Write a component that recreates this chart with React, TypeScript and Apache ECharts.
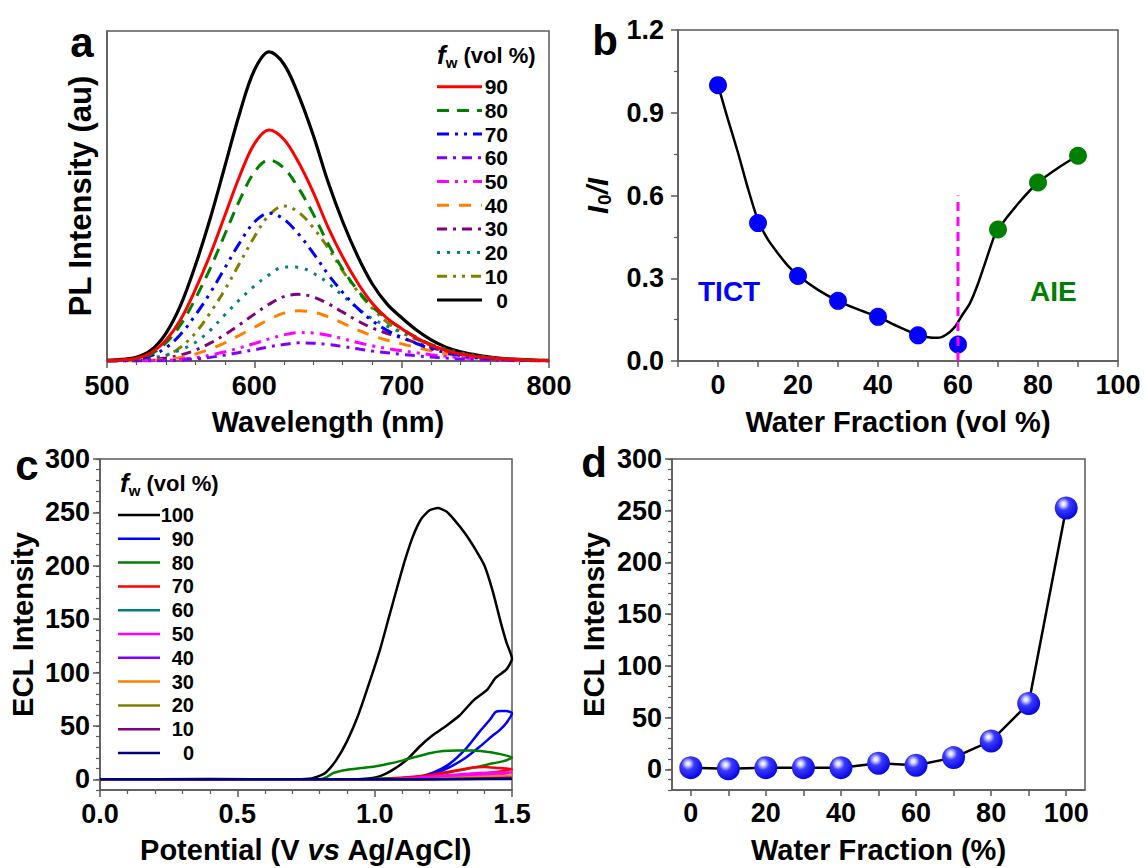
import React, { useEffect, useRef } from 'react';
import * as echarts from 'echarts';

const FONT = '"Liberation Sans", Arial, Helvetica, sans-serif';
const AXIS = '#5a5a5a';

// ---------- panel a: PL spectra ----------
const wavelengths = [500, 510, 520, 530, 540, 550, 560, 570, 580, 590, 600, 610, 620, 630, 640, 650, 660, 670, 680, 690, 700, 710, 720, 730, 740, 750, 760, 770, 780, 790, 800];
const pl90 = [0.1, 0.4, 0.8, 2.5, 6.3, 12.6, 21.7, 32.2, 44.1, 56.0, 65.8, 70.0, 67.2, 60.2, 51.1, 40.6, 31.5, 23.8, 17.5, 13.0, 9.8, 7.0, 4.8, 3.2, 2.1, 1.4, 0.9, 0.6, 0.4, 0.2, 0.1];
const pl80 = [0.1, 0.3, 0.7, 2.1, 5.5, 11.0, 18.9, 28.0, 38.4, 48.7, 57.2, 60.9, 58.5, 52.4, 44.5, 35.6, 27.8, 21.5, 16.5, 12.8, 9.8, 7.2, 5.0, 3.4, 2.2, 1.5, 1.0, 0.6, 0.4, 0.2, 0.1];
const pl70 = [0.1, 0.2, 0.5, 1.6, 4.0, 8.1, 13.9, 20.6, 28.2, 35.8, 42.1, 44.8, 43.0, 38.5, 32.7, 26.3, 20.8, 16.0, 12.2, 9.3, 7.2, 5.3, 3.7, 2.5, 1.6, 1.0, 0.7, 0.4, 0.3, 0.1, 0.1];
const pl60 = [0.0, 0.0, 0.0, 0.1, 0.1, 0.3, 0.6, 1.1, 1.8, 2.6, 3.4, 4.3, 5.0, 5.5, 5.4, 5.0, 4.4, 3.7, 3.0, 2.5, 2.0, 1.6, 1.2, 0.9, 0.6, 0.4, 0.3, 0.2, 0.1, 0.1, 0.0];
const pl50 = [0.0, 0.0, 0.0, 0.1, 0.2, 0.5, 1.0, 1.8, 2.8, 4.0, 5.3, 6.7, 7.9, 8.6, 8.5, 7.8, 6.8, 5.6, 4.6, 3.8, 3.1, 2.5, 1.9, 1.4, 1.0, 0.7, 0.5, 0.3, 0.2, 0.1, 0.1];
const pl40 = [0.0, 0.0, 0.1, 0.2, 0.5, 1.1, 2.1, 3.6, 5.5, 7.8, 10.2, 12.6, 14.5, 15.2, 14.8, 13.4, 11.5, 9.4, 7.7, 6.3, 5.2, 4.1, 3.1, 2.2, 1.5, 1.0, 0.7, 0.4, 0.3, 0.2, 0.1];
const pl30 = [0.0, 0.1, 0.2, 0.4, 0.9, 1.8, 3.3, 5.4, 8.0, 11.0, 14.2, 17.2, 19.5, 20.2, 19.4, 17.4, 14.8, 12.2, 10.0, 8.4, 7.0, 5.5, 4.1, 2.9, 2.0, 1.3, 0.9, 0.6, 0.4, 0.2, 0.1];
const pl20 = [0.1, 0.2, 0.4, 0.9, 1.8, 3.4, 5.6, 9.3, 14.0, 18.6, 22.7, 26.1, 28.5, 28.4, 26.6, 23.6, 19.8, 16.0, 12.8, 10.6, 8.6, 6.7, 5.0, 3.6, 2.5, 1.7, 1.1, 0.7, 0.4, 0.3, 0.2];
const pl10 = [0.0, 0.1, 0.2, 0.6, 1.6, 4.2, 8.5, 14.6, 21.6, 29.6, 37.6, 44.2, 47.0, 45.1, 40.4, 34.3, 27.3, 21.2, 16.0, 11.8, 8.7, 6.6, 4.7, 3.2, 2.1, 1.4, 0.9, 0.6, 0.4, 0.2, 0.1];
const pl0 = [0.2, 0.5, 1.1, 3.3, 8.4, 16.9, 29.0, 43.1, 59.0, 75.0, 88.1, 93.7, 90.0, 80.6, 68.4, 54.3, 42.2, 31.9, 23.4, 17.3, 13.1, 9.4, 6.4, 4.2, 2.8, 1.9, 1.2, 0.7, 0.5, 0.3, 0.2];

const plLabels = ['90', '80', '70', '60', '50', '40', '30', '20', '10', '0'];
const plValues = [pl90, pl80, pl70, pl60, pl50, pl40, pl30, pl20, pl10, pl0];
const plColors = ['#ff0000', '#008000', '#0000ff', '#8000ff', '#ff00ff', '#ff8000', '#800080', '#008080', '#808000', '#000000'];
const plDashes: (number[] | null)[] = [null, [12, 8], [12, 6, 3, 6, 3, 6], [10, 6, 3, 6], [12, 6, 3, 6, 3, 6], [12, 10], [10, 6, 3, 6], [3, 7], [10, 6, 3, 6, 3, 6], null];
const plTicks = [500, 600, 700, 800];

// ---------- panel b: I0/I vs water fraction ----------
const waterB = [0, 10, 20, 30, 40, 50, 60, 70, 80, 90];
const ratioB = [1.0, 0.5, 0.308, 0.218, 0.16, 0.093, 0.06, 0.477, 0.647, 0.744];
const tictCount = 7; // first seven points belong to the TICT regime
const fitX = [0, 1, 2.5, 5, 7.5, 10, 12.5, 15, 17.5, 20, 25, 30, 35, 40, 45, 50, 53, 55, 57, 59, 61, 63, 65, 67, 69, 70, 75, 80, 85, 90];
const fitY = [1.0, 0.95, 0.875, 0.755, 0.625, 0.51, 0.44, 0.39, 0.345, 0.31, 0.258, 0.218, 0.187, 0.16, 0.125, 0.094, 0.085, 0.084, 0.095, 0.12, 0.165, 0.21, 0.28, 0.365, 0.45, 0.478, 0.57, 0.647, 0.7, 0.745];
const boundaryX = 60;
const boundaryTop = 0.6;
const bXLabels = [0, 20, 40, 60, 80, 100];
const bXTicks = [-10, 0, 10, 20, 30, 40, 50, 60, 70, 80, 90, 100];

// ---------- panel c: ECL vs potential ----------
const ecl100 = [[0, 0], [0.4, 0.3], [0.7, 0], [0.76, 0.5], [0.78, 1.5], [0.82, 6], [0.86, 18], [0.9, 36], [0.94, 60], [0.98, 90], [1.02, 122], [1.05, 150], [1.08, 178], [1.11, 205], [1.14, 228], [1.17, 244], [1.2, 252], [1.23, 254], [1.26, 251], [1.29, 243], [1.33, 230], [1.37, 214], [1.4, 200], [1.43, 176], [1.46, 146], [1.48, 128], [1.5, 113], [1.48, 103], [1.44, 95], [1.41, 84], [1.36, 74], [1.31, 60], [1.26, 50], [1.21, 41], [1.165, 31], [1.12, 19], [1.07, 9.5], [1.02, 3], [0.97, 0.6], [0.9, 0], [0.4, 0], [0, 0]];
const ecl90 = [[0, 0], [1.0, 0], [1.1, 0.5], [1.15, 1.6], [1.21, 6], [1.27, 14], [1.33, 28], [1.38, 44], [1.42, 56], [1.44, 63], [1.46, 64], [1.48, 64], [1.5, 62], [1.48, 53], [1.455, 46], [1.43, 41], [1.38, 30], [1.33, 20], [1.27, 11], [1.21, 4.7], [1.15, 1.6], [1.1, 0.5], [1.0, 0], [0, 0]];
const ecl80 = [[0, 0], [0.8, 0], [0.825, 2], [0.85, 6], [0.9, 9], [0.95, 10.5], [1.0, 12], [1.05, 14.5], [1.1, 17.5], [1.15, 21], [1.2, 24.5], [1.25, 26.5], [1.3, 27], [1.35, 27], [1.4, 26], [1.45, 24], [1.5, 20.5], [1.47, 17], [1.43, 15], [1.38, 12], [1.33, 9.5], [1.26, 6], [1.19, 3], [1.1, 1.5], [1.0, 0.5], [0.9, 0], [0, 0]];
const ecl70 = [[0, 0], [1.0, 0], [1.1, 1.5], [1.2, 4], [1.3, 8.5], [1.36, 11], [1.4, 11.5], [1.45, 10.5], [1.5, 9.5], [1.45, 7], [1.4, 5.5], [1.3, 3.5], [1.2, 1.8], [1.1, 0.6], [1.0, 0], [0, 0]];
const ecl60 = [[0, 0], [1.1, 0], [1.25, 1.2], [1.4, 2.5], [1.5, 3], [1.4, 1.8], [1.25, 0.8], [1.1, 0], [0, 0]];
const ecl50 = [[0, 0], [1.05, 0], [1.15, 1.5], [1.25, 3.5], [1.35, 5.5], [1.45, 6.5], [1.5, 6.5], [1.45, 4.5], [1.35, 3], [1.25, 1.8], [1.15, 0.6], [1.05, 0], [0, 0]];
const ecl40 = [[0, 0], [1.15, 0], [1.3, 1.2], [1.45, 2.5], [1.5, 2.8], [1.4, 1.5], [1.25, 0.5], [1.15, 0], [0, 0]];
const ecl30 = [[0, 0], [1.15, 0], [1.3, 1.5], [1.45, 3], [1.5, 3.3], [1.4, 2], [1.25, 0.7], [1.15, 0], [0, 0]];
const ecl20 = [[0, 0], [1.2, 0], [1.4, 1], [1.5, 1.5], [1.4, 0.6], [1.2, 0], [0, 0]];
const ecl10 = [[0, 0], [1.2, 0], [1.4, 0.8], [1.5, 1.2], [1.4, 0.5], [1.2, 0], [0, 0]];
const ecl0 = [[0, 0], [0.75, 0], [1.5, 0.3], [0.75, 0], [0, 0]];

const eclLabels = ['100', '90', '80', '70', '60', '50', '40', '30', '20', '10', '0'];
const eclValues = [ecl100, ecl90, ecl80, ecl70, ecl60, ecl50, ecl40, ecl30, ecl20, ecl10, ecl0];
const eclColors = ['#000000', '#0000ff', '#008000', '#ff0000', '#008080', '#ff00ff', '#8000ff', '#ff8000', '#808000', '#800080', '#000080'];
const cYLabels = [0, 50, 100, 150, 200, 250, 300];

// ---------- panel d: ECL vs water fraction ----------
const waterD = [0, 10, 20, 30, 40, 50, 60, 70, 80, 90, 100];
const eclD = [1.6, 0.6, 1.6, 1.6, 1.6, 5.8, 3.9, 11.3, 27.4, 63.7, 252.7];
const dXLabels = [0, 20, 40, 60, 80, 100];
const dXTicks = [0, 10, 20, 30, 40, 50, 60, 70, 80, 90, 100];
const dYLabels = [0, 50, 100, 150, 200, 250, 300];

const tickFont = { fontFamily: FONT, fontWeight: 'bold' as const, fontSize: 27, color: '#000' };
const nameFont = { fontFamily: FONT, fontWeight: 'bold' as const, fontSize: 29, color: '#000' };

function axisBase(gridIndex: number, extra: any) {
  return {
    gridIndex,
    axisLine: { show: true, onZero: false, lineStyle: { color: AXIS, width: 1.5 } },
    axisTick: { show: true, length: 7, lineStyle: { color: AXIS, width: 1.5 } },
    minorTick: { show: false },
    axisLabel: { ...tickFont, margin: 10 },
    splitLine: { show: false },
    nameTextStyle: nameFont,
    nameLocation: 'middle',
    ...extra,
  };
}

function minorAxis(gridIndex: number, min: number, max: number, position: string) {
  return {
    gridIndex,
    type: 'value',
    min,
    max,
    interval: 10,
    position,
    axisLine: { show: false, onZero: false },
    axisTick: { show: true, length: 4, lineStyle: { color: AXIS, width: 1.2 } },
    axisLabel: { show: false },
    splitLine: { show: false },
  };
}

function buildOption() {
  const grids = [
    { left: 107, top: 31, width: 442, height: 330 },
    { left: 678, top: 30, width: 440, height: 331 },
    { left: 100, top: 459, width: 412, height: 331 },
    { left: 672, top: 459, width: 413, height: 331 },
  ].map((g) => ({ ...g, show: true, borderColor: AXIS, borderWidth: 1.5, backgroundColor: 'transparent' }));

  const xAxis: any[] = [
    axisBase(0, {
      type: 'value', min: 500, max: 800, interval: 100,
      minorTick: { show: true, splitNumber: 5, length: 4, lineStyle: { color: AXIS, width: 1.2 } },
      axisLabel: { ...tickFont, margin: 11, customValues: plTicks },
      name: 'Wavelength (nm)', nameGap: 46,
    }),
    axisBase(1, {
      type: 'value', min: -10, max: 100,
      axisTick: { show: true, length: 6, lineStyle: { color: AXIS, width: 1.5 }, customValues: bXTicks },
      axisLabel: { ...tickFont, margin: 10, customValues: bXLabels },
      name: 'Water Fraction (vol %)', nameGap: 46,
    }),
    axisBase(2, {
      type: 'value', min: 0, max: 1.5, interval: 0.5,
      minorTick: { show: true, splitNumber: 5, length: 4, lineStyle: { color: AXIS, width: 1.2 } },
      axisLabel: { ...tickFont, margin: 10, formatter: (v: number) => v.toFixed(1) },
      name: '{n|Potential (V }{i|vs}{n| Ag/AgCl)}', nameGap: 45,
      nameTextStyle: { ...nameFont, rich: { n: { ...nameFont }, i: { ...nameFont, fontStyle: 'italic' } } },
    }),
    axisBase(3, {
      type: 'value', min: -5, max: 105,
      axisTick: { show: true, length: 6, lineStyle: { color: AXIS, width: 1.5 }, customValues: dXTicks },
      axisLabel: { ...tickFont, margin: 9, customValues: dXLabels },
      name: 'Water Fraction (%)', nameGap: 45,
    }),
  ];

  const yAxis: any[] = [
    axisBase(0, {
      type: 'value', min: 0, max: 100,
      axisTick: { show: false }, axisLabel: { show: false },
      name: 'PL Intensity (au)', nameGap: 11,
      nameTextStyle: { ...nameFont, fontSize: 31 },
    }),
    axisBase(1, {
      type: 'value', min: 0, max: 1.2, interval: 0.3,
      axisTick: { show: true, length: 7, lineStyle: { color: AXIS, width: 1.5 } },
      minorTick: { show: true, splitNumber: 2, length: 4, lineStyle: { color: AXIS, width: 1.2 } },
      axisLabel: { ...tickFont, margin: 14, formatter: (v: number) => v.toFixed(1) },
    }),
    axisBase(2, {
      type: 'value', min: -10, max: 300, position: 'left',
      axisTick: { show: true, length: 7, lineStyle: { color: AXIS, width: 1.5 }, customValues: cYLabels },
      axisLabel: { ...tickFont, margin: 10, customValues: cYLabels },
      name: 'ECL Intensity', nameGap: 63,
    }),
    axisBase(3, {
      type: 'value', min: -20, max: 300, position: 'left',
      axisTick: { show: true, length: 7, lineStyle: { color: AXIS, width: 1.5 }, customValues: dYLabels },
      axisLabel: { ...tickFont, margin: 10, customValues: dYLabels },
      name: 'ECL Intensity', nameGap: 64,
    }),
    minorAxis(2, -10, 300, 'left'),
    minorAxis(3, -20, 300, 'left'),
  ];

  const series: any[] = [];

  // panel a spectra: black first so colored curves sit above it
  const order = plLabels.map((_, i) => i).reverse();
  order.forEach((i) => {
    series.push({
      name: 'a-' + plLabels[i],
      type: 'line',
      xAxisIndex: 0,
      yAxisIndex: 0,
      data: wavelengths.map((w, k) => [w, plValues[i][k]]),
      smooth: 0.35,
      symbol: 'none',
      lineStyle: { color: plColors[i], width: i === plLabels.length - 1 ? 3.2 : 3, type: plDashes[i] ?? 'solid', cap: 'butt' },
      z: 2,
    });
  });

  // panel b
  series.push({
    name: 'b-fit', type: 'line', xAxisIndex: 1, yAxisIndex: 1,
    data: fitX.map((x, k) => [x, fitY[k]]), smooth: 0.25, symbol: 'none',
    lineStyle: { color: '#000', width: 2.5 }, z: 2,
  });
  series.push({
    name: 'b-TICT', type: 'scatter', xAxisIndex: 1, yAxisIndex: 1,
    data: waterB.slice(0, tictCount).map((x, k) => [x, ratioB[k]]),
    symbolSize: 18, itemStyle: { color: '#0000ff', opacity: 1 }, z: 3,
  });
  series.push({
    name: 'b-AIE', type: 'scatter', xAxisIndex: 1, yAxisIndex: 1,
    data: waterB.slice(tictCount).map((x, k) => [x, ratioB[k + tictCount]]),
    symbolSize: 18, itemStyle: { color: '#008000', opacity: 1 }, z: 3,
  });
  series.push({
    name: 'b-boundary', type: 'line', xAxisIndex: 1, yAxisIndex: 1,
    data: [[boundaryX, 0], [boundaryX, boundaryTop]], symbol: 'none',
    lineStyle: { color: '#ff00ff', width: 3, type: [9, 6] }, z: 4,
  });

  // panel c
  eclValues.forEach((vals, i) => {
    series.push({
      name: 'c-' + eclLabels[i], type: 'line', xAxisIndex: 2, yAxisIndex: 2,
      data: vals, smooth: 0.2, symbol: 'none',
      lineStyle: { color: eclColors[i], width: 2.5 }, z: 2,
    });
  });

  // panel d
  series.push({
    name: 'd', type: 'line', xAxisIndex: 3, yAxisIndex: 3,
    data: waterD.map((x, k) => [x, eclD[k]]),
    symbol: 'circle', symbolSize: 23, showSymbol: true,
    lineStyle: { color: '#000', width: 2.5 },
    itemStyle: {
      color: {
        type: 'radial', x: 0.38, y: 0.33, r: 0.72,
        colorStops: [
          { offset: 0, color: '#ffffff' },
          { offset: 0.13, color: '#d8d8ff' },
          { offset: 0.38, color: '#3a3aff' },
          { offset: 1, color: '#0000dd' },
        ],
      },
    },
    z: 3,
  });

  const graphic: any[] = [];
  const letter = (t: string, x: number, y: number) => ({
    type: 'text', x, y, z: 10,
    style: { text: t, fontFamily: FONT, fontWeight: 'bold', fontSize: 42, fill: '#000', align: 'center', verticalAlign: 'middle' },
  });
  graphic.push(letter('a', 82, 42), letter('b', 605, 40), letter('c', 27, 465), letter('d', 594, 462));

  graphic.push({
    type: 'text', x: 698, y: 291, z: 10,
    style: { text: 'TICT', fontFamily: FONT, fontWeight: 'bold', fontSize: 28, fill: '#0000ff', align: 'left', verticalAlign: 'middle' },
  });
  graphic.push({
    type: 'text', x: 1030, y: 291, z: 10,
    style: { text: 'AIE', fontFamily: FONT, fontWeight: 'bold', fontSize: 28, fill: '#008000', align: 'left', verticalAlign: 'middle' },
  });

  // I0/I axis title of panel b, written along the rotated baseline
  const titleItalic = { fontFamily: FONT, fontWeight: 'bold', fontStyle: 'italic', fontSize: 29, fill: '#000', verticalAlign: 'middle' };
  graphic.push({
    type: 'group', x: 598, y: 196, rotation: Math.PI / 2, z: 10,
    children: [
      { type: 'text', x: -18, y: 0, style: { ...titleItalic, text: 'I', align: 'left' } },
      { type: 'text', x: -9, y: 6, style: { fontFamily: FONT, fontWeight: 'bold', fontSize: 19, fill: '#000', text: '0', align: 'left', verticalAlign: 'middle' } },
      { type: 'text', x: 2, y: 0, style: { ...titleItalic, text: '/I', align: 'left' } },
    ],
  });

  const legendTitle = (x: number, y: number) => ({
    type: 'text', x, y, z: 10,
    style: {
      text: '{f|f}{w|w}{t| (vol %)}',
      align: 'left', verticalAlign: 'middle',
      rich: {
        f: { fontFamily: FONT, fontWeight: 'bold', fontStyle: 'italic', fontSize: 26, fill: '#000', lineHeight: 30 },
        w: { fontFamily: FONT, fontWeight: 'bold', fontSize: 15, fill: '#000', lineHeight: 12, verticalAlign: 'bottom' },
        t: { fontFamily: FONT, fontWeight: 'bold', fontSize: 22, fill: '#000', lineHeight: 30 },
      },
    },
  });

  // panel a legend
  graphic.push(legendTitle(437, 55));
  plLabels.forEach((lab, i) => {
    const y = 86.7 + i * 23.7;
    graphic.push({
      type: 'line', z: 10,
      shape: { x1: 437, y1: y, x2: 482, y2: y },
      style: { stroke: plColors[i], lineWidth: 3, lineDash: plDashes[i] ?? null },
    });
    graphic.push({
      type: 'text', x: 508, y, z: 10,
      style: { text: lab, fontFamily: FONT, fontWeight: 'bold', fontSize: 21, fill: '#000', align: 'right', verticalAlign: 'middle' },
    });
  });

  // panel c legend
  graphic.push(legendTitle(120, 483));
  eclLabels.forEach((lab, i) => {
    const y = 515 + i * 23.8;
    graphic.push({
      type: 'line', z: 10,
      shape: { x1: 118, y1: y, x2: 160, y2: y },
      style: { stroke: eclColors[i], lineWidth: 2.5 },
    });
    graphic.push({
      type: 'text', x: 194, y, z: 10,
      style: { text: lab, fontFamily: FONT, fontWeight: 'bold', fontSize: 20, fill: '#000', align: 'right', verticalAlign: 'middle' },
    });
  });

  return {
    animation: false,
    backgroundColor: '#ffffff',
    grid: grids,
    xAxis,
    yAxis,
    series,
    graphic,
  };
}

export default function App() {
  const ref = useRef<HTMLDivElement>(null);
  useEffect(() => {
    if (!ref.current) return;
    const chart = echarts.init(ref.current, null, { renderer: 'svg' });
    chart.setOption(buildOption() as any);
    return () => chart.dispose();
  }, []);
  return (
    <div
      ref={ref}
      style={{ position: 'absolute', left: 0, top: 0, width: 1148, height: 868, background: '#ffffff' }}
    />
  );
}
